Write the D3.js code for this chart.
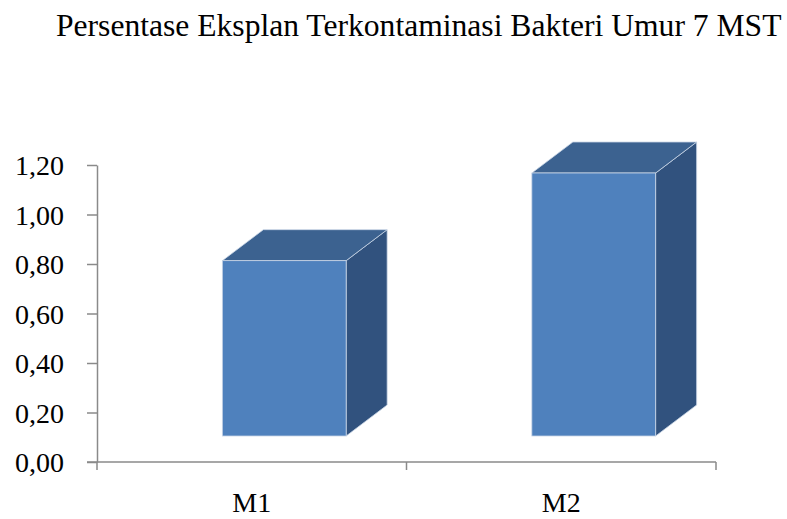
<!doctype html>
<html lang="en">
<head>
  <meta charset="utf-8">
  <script src="https://d3js.org/d3.v7.min.js"></script>
  <style>
    body { margin: 0; background: #fff; }
    text { font-family: "Liberation Serif", "Times New Roman", serif; fill: #000; }
  </style>
</head>
<body>
  <script>
    // chart data
    var categories = ["M1", "M2"];
    var values = [0.80, 1.20];
    var yTicks = [0, 0.2, 0.4, 0.6, 0.8, 1.0, 1.2];
    var title = "Persentase Eksplan Terkontaminasi Bakteri Umur 7 MST";

    var width = 787, height = 519;

    var svg = d3.select("body").append("svg")
        .attr("width", width)
        .attr("height", height);

    // comma as decimal separator
    var fmt = d3.formatLocale({decimal: ",", thousands: ".", grouping: [3], currency: ["", ""]}).format(".2f");

    var x = d3.scaleBand().domain(categories).range([97, 716]);
    var y = d3.scaleLinear().domain([0, 1.2]).range([462, 165]);
    // the 3d floor sits a bit higher than the axis and is drawn a bit smaller
    var barY = d3.scaleLinear().domain([0, 1.2]).range([436, 173]);

    var depthX = 41, depthY = 31;

    // title
    svg.append("text")
        .attr("x", 56)
        .attr("y", 36)
        .style("font-size", "31.6px")
        .text(title);

    // y axis
    var yAxis = d3.axisLeft(y)
        .tickValues(yTicks)
        .tickFormat(fmt)
        .tickSize(10)
        .tickSizeOuter(0)
        .tickPadding(23);

    var gy = svg.append("g")
        .attr("transform", "translate(97,0)")
        .call(yAxis);
    gy.select(".domain").attr("stroke", "#8a8a8a").attr("stroke-width", 1.5);
    gy.selectAll(".tick line").attr("stroke", "#8a8a8a").attr("stroke-width", 1.5);
    gy.selectAll(".tick text")
        .attr("font-family", null)
        .attr("font-size", null)
        .style("font-size", "28px")
        .attr("dy", "0.34em");

    // x axis (ticks on category boundaries)
    var gx = svg.append("g");
    var xr = x.range();
    gx.append("line")
        .attr("x1", 87).attr("x2", xr[1])
        .attr("y1", y(0)).attr("y2", y(0))
        .attr("stroke", "#8a8a8a").attr("stroke-width", 1.5);
    var bounds = categories.map(function(d) { return x(d); }).concat([xr[1]]);
    gx.selectAll("line.xt")
        .data(bounds)
      .enter().append("line")
        .attr("class", "xt")
        .attr("x1", function(d) { return d; })
        .attr("x2", function(d) { return d; })
        .attr("y1", y(0))
        .attr("y2", y(0) + 8)
        .attr("stroke", "#8a8a8a").attr("stroke-width", 1.5);
    gx.selectAll("text")
        .data(categories)
      .enter().append("text")
        .attr("x", function(d) { return x(d) + x.bandwidth() / 2; })
        .attr("y", 512)
        .attr("text-anchor", "middle")
        .style("font-size", "28px")
        .text(function(d) { return d; });

    // 3d bars
    var bars = svg.selectAll("g.bar")
        .data(categories.map(function(c, i) { return {cat: c, value: values[i]}; }))
      .enter().append("g")
        .attr("class", "bar");

    function left(d) { return x(d.cat) + x.step() * 0.405; }
    var bw = x.step() * 0.4;

    // side face
    bars.append("path")
        .attr("d", function(d) {
          var x1 = left(d) + bw, t = barY(d.value), b = barY(0);
          return "M" + x1 + "," + t + "L" + (x1 + depthX) + "," + (t - depthY) +
                 "L" + (x1 + depthX) + "," + (b - depthY) + "L" + x1 + "," + b + "Z";
        })
        .attr("fill", "#31527e")
        .attr("stroke", "#c9d5e6").attr("stroke-width", 0.8);

    // top face
    bars.append("path")
        .attr("d", function(d) {
          var x0 = left(d), x1 = x0 + bw, t = barY(d.value);
          return "M" + x0 + "," + t + "L" + (x0 + depthX) + "," + (t - depthY) +
                 "L" + (x1 + depthX) + "," + (t - depthY) + "L" + x1 + "," + t + "Z";
        })
        .attr("fill", "#3c6290")
        .attr("stroke", "#c9d5e6").attr("stroke-width", 0.8);

    // front face
    bars.append("rect")
        .attr("x", left)
        .attr("y", function(d) { return barY(d.value); })
        .attr("width", bw)
        .attr("height", function(d) { return barY(0) - barY(d.value); })
        .attr("fill", "#4f81bd")
        .attr("stroke", "#c9d5e6").attr("stroke-width", 0.8);
  </script>
</body>
</html>
